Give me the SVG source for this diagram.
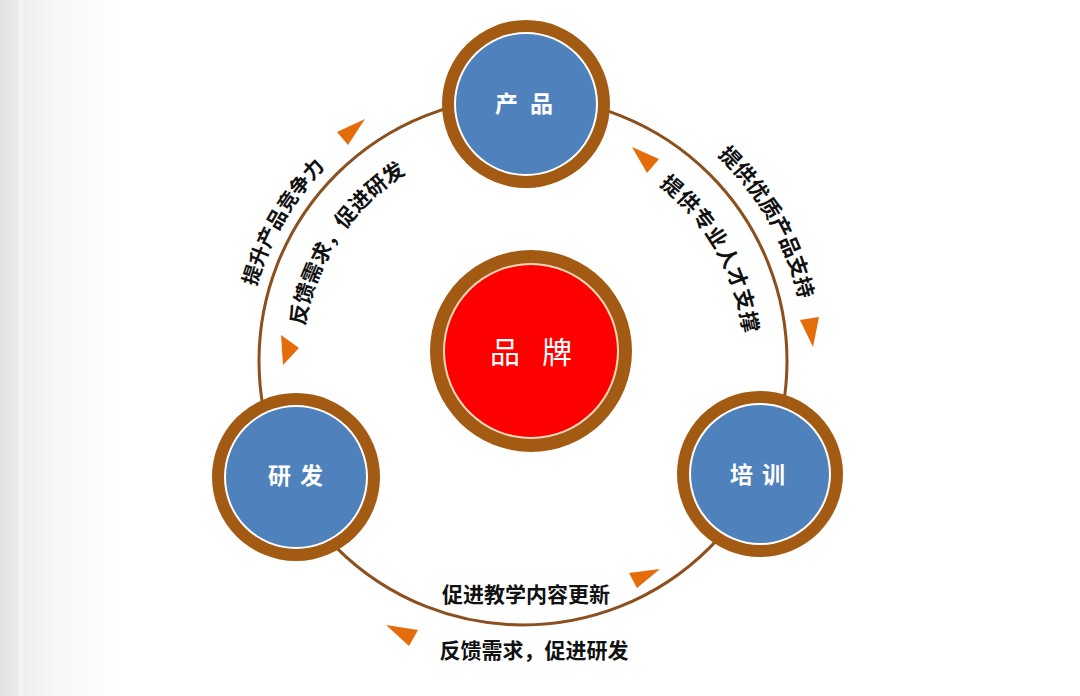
<svg xmlns="http://www.w3.org/2000/svg" width="1080" height="696" viewBox="0 0 1080 696">
<defs>
<linearGradient id="side" x1="0" y1="0" x2="1" y2="0">
<stop offset="0" stop-color="#e2e2e2"/>
<stop offset="0.15" stop-color="#ebebeb"/>
<stop offset="0.17" stop-color="#f5f5f5"/>
<stop offset="0.2" stop-color="#eeeeee"/>
<stop offset="0.45" stop-color="#f7f7f7"/>
<stop offset="1" stop-color="#ffffff"/>
</linearGradient>
<path id="tlo" d="M250.2,409.1 A277,277 0 0 1 428.3,100.7"/>
<path id="tli" d="M303.4,385.6 A221,221 0 0 1 460.6,149.0"/>
<path id="tro" d="M621.6,95.8 A283,283 0 0 1 801.3,412.1"/>
<path id="tri" d="M600.4,152.9 A222,222 0 0 1 741.4,401.1"/>
</defs>
<style>
.ring{fill:#a35a12}
.gap{fill:#ffffff}
.blue{fill:#4f81bd}
.lbl{font-family:"Noto Sans CJK SC","Liberation Sans",sans-serif;font-weight:bold;fill:#ffffff;text-anchor:middle}
.cap{font-family:"Noto Sans CJK SC","Liberation Sans",sans-serif;font-weight:bold;fill:#111111}
.tri{fill:#e46c0a}
.link{fill:none;stroke:#8c4f1e;stroke-width:3}
</style>
<rect x="0" y="0" width="1080" height="696" fill="#ffffff"/>
<rect x="0" y="0" width="120" height="696" fill="url(#side)"/>
<g id="connectors">
<circle class="link" cx="523" cy="361" r="264"/>
<polygon class="tri" points="365,119 337,132 348,145"/>
<polygon class="tri" points="281,335 299,348 283,365"/>
<polygon class="tri" points="632,147 659,159 647,173"/>
<polygon class="tri" points="800,320 819,317 813,347"/>
<polygon class="tri" points="660,569 629,573 637,588"/>
<polygon class="tri" points="386,625 418,630 409,646"/>
<text class="cap" font-size="20"><textPath href="#tlo" startOffset="50%" text-anchor="middle">提升产品竞争力</textPath></text>
<text class="cap" font-size="21"><textPath href="#tli" startOffset="50%" text-anchor="middle">反馈需求，促进研发</textPath></text>
<text class="cap" font-size="21"><textPath href="#tro" startOffset="50%" text-anchor="middle">提供优质产品支持</textPath></text>
<text class="cap" font-size="21"><textPath href="#tri" startOffset="50%" text-anchor="middle" letter-spacing="1">提供专业人才支撑</textPath></text>
<text class="cap" font-size="21" x="526" y="602" text-anchor="middle">促进教学内容更新</text>
<text class="cap" font-size="21" x="534" y="658" text-anchor="middle">反馈需求，促进研发</text>
</g>
<g id="node-product">
<circle class="ring" cx="526" cy="104" r="84"/>
<circle class="gap" cx="526" cy="104" r="72"/>
<circle class="blue" cx="526" cy="104" r="70"/>
<text class="lbl" x="530" y="112" font-size="23" letter-spacing="12">产品</text>
</g>
<g id="node-rd">
<circle class="ring" cx="296" cy="477" r="84"/>
<circle class="gap" cx="296" cy="477" r="72"/>
<circle class="blue" cx="296" cy="477" r="70"/>
<text class="lbl" x="300" y="484" font-size="23" letter-spacing="9">研发</text>
</g>
<g id="node-training">
<circle class="ring" cx="760" cy="474" r="83"/>
<circle class="gap" cx="760" cy="474" r="71"/>
<circle class="blue" cx="760" cy="474" r="69"/>
<text class="lbl" x="762" y="483" font-size="23" letter-spacing="9">培训</text>
</g>
<g id="node-brand">
<circle class="ring" cx="531" cy="351" r="101"/>
<circle fill="#f6d9b8" cx="531" cy="351" r="88"/>
<circle fill="#ff0000" cx="531" cy="351" r="86"/>
<text x="542" y="363" font-size="30" letter-spacing="22" text-anchor="middle" fill="#ffffff" font-family="'Noto Sans CJK SC','Liberation Sans',sans-serif">品牌</text>
</g>
</svg>
